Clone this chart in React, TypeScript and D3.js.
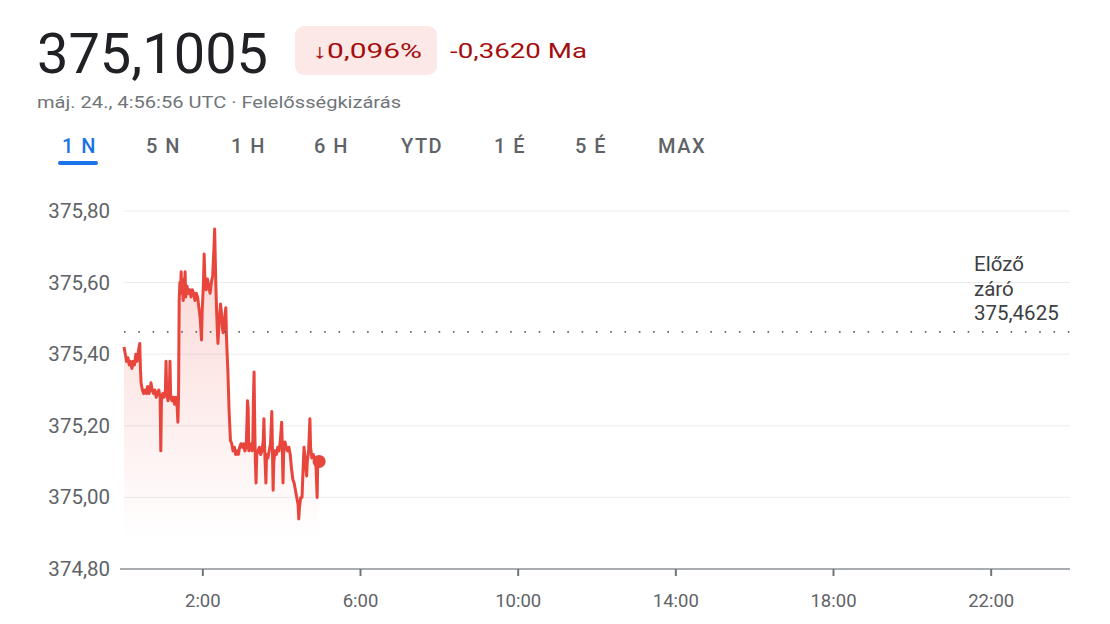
import React from "react";
import * as d3 from "d3";

// minutes since 0:00 (UTC) and the price at that moment
const minutes = [
  0, 2, 4, 6, 8, 10, 12, 14, 16, 18, 20, 22, 24, 25, 26, 28, 30, 32, 34, 36, 38, 40, 41, 43, 45, 47, 49, 51, 53, 55,
  56, 57, 59, 61, 63, 64, 65, 67, 69, 70, 71, 73, 75, 77, 79, 81, 82, 83, 84, 85, 86, 87, 88, 89, 90, 92, 93, 94, 96,
  98, 100, 102, 104, 106, 108, 110, 112, 114, 116, 118, 119, 121, 122, 123, 125, 127, 129, 131, 133, 135, 137, 138,
  139, 140, 141, 142, 143, 145, 147, 148, 150, 151, 153, 155, 156, 157, 158, 159, 160, 161, 162, 164, 166, 168, 170,
  172, 174, 176, 178, 180, 182, 184, 186, 187, 188, 189, 190, 192, 194, 195, 196, 197, 198, 199, 200, 201, 202, 204,
  206, 208, 210, 212, 213, 214, 216, 217, 219, 221, 223, 225, 226, 227, 228, 230, 232, 234, 236, 238, 240, 241, 242,
  243, 245, 247, 249, 251, 253, 255, 257, 259, 261, 263, 265, 266, 267, 269, 271, 272, 274, 276, 278, 279, 281, 283,
  284, 286, 288, 290, 292, 294, 295, 297,
];

const prices = [
  375.42, 375.4, 375.38, 375.39, 375.37, 375.38, 375.36, 375.38, 375.37, 375.4, 375.38, 375.41, 375.43, 375.36, 375.32,
  375.3, 375.29, 375.3, 375.29, 375.31, 375.29, 375.3, 375.32, 375.3, 375.29, 375.3, 375.28, 375.29, 375.3, 375.28,
  375.13, 375.27, 375.29, 375.28, 375.3, 375.38, 375.29, 375.27, 375.3, 375.38, 375.28, 375.27, 375.28, 375.26, 375.28,
  375.25, 375.21, 375.28, 375.55, 375.6, 375.58, 375.63, 375.57, 375.61, 375.55, 375.58, 375.63, 375.56, 375.59,
  375.57, 375.58, 375.56, 375.58, 375.57, 375.55, 375.57, 375.56, 375.53, 375.5, 375.44, 375.52, 375.6, 375.68,
  375.62, 375.58, 375.61, 375.59, 375.57, 375.6, 375.62, 375.7, 375.75, 375.66, 375.58, 375.52, 375.47, 375.43,
  375.5, 375.54, 375.52, 375.47, 375.46, 375.5, 375.53, 375.45, 375.4, 375.36, 375.3, 375.24, 375.2, 375.16, 375.15,
  375.13, 375.14, 375.12, 375.13, 375.12, 375.14, 375.15, 375.14, 375.15, 375.13, 375.14, 375.2, 375.27, 375.25,
  375.13, 375.14, 375.15, 375.13, 375.14, 375.28, 375.35, 375.2, 375.1, 375.04, 375.12, 375.13, 375.14, 375.12,
  375.13, 375.16, 375.22, 375.14, 375.04, 375.12, 375.11, 375.13, 375.15, 375.24, 375.13, 375.02, 375.1, 375.13,
  375.12, 375.14, 375.13, 375.16, 375.21, 375.14, 375.04, 375.12, 375.155, 375.14, 375.13, 375.14, 375.12, 375.08,
  375.05, 375.04, 375.02, 375.0, 374.98, 374.94, 374.97, 375.0, 375.0, 375.05, 375.14, 375.1, 375.06, 375.1, 375.13,
  375.22, 375.14, 375.11, 375.12, 375.11, 375.1, 375.0, 375.11, 375.1005,
];

const yTicks = [374.8, 375.0, 375.2, 375.4, 375.6, 375.8];
const xTickHours = [2, 6, 10, 14, 18, 22];
const tabs = ["1 N", "5 N", "1 H", "6 H", "YTD", "1 É", "5 É", "MAX"];
const tabX = [62, 146, 231, 314, 401, 494, 575, 658];
const previousClose = 375.4625;

const RED = "#e8453c";
const font = "Roboto, 'Noto Sans', Arial, sans-serif";

const hu = d3.formatLocale({ decimal: ",", thousands: " ", grouping: [3], currency: ["", " Ft"], minus: "-" });
const fmt2 = hu.format(".2f");
const fmt4 = hu.format(".4f");

export default function App() {
  const x = d3.scaleLinear().domain([0, 24 * 60]).range([124, 1070]);
  const y = d3.scaleLinear().domain([374.8, 375.8]).range([569, 211]);

  const pts = minutes.map((m, i) => [m, prices[i]] as [number, number]);
  const line = d3
    .line<[number, number]>()
    .x((d) => x(d[0]))
    .y((d) => y(d[1]));
  const area = d3
    .area<[number, number]>()
    .x((d) => x(d[0]))
    .y0(y(374.8))
    .y1((d) => y(d[1]));

  const last = pts[pts.length - 1];
  const change = prices[prices.length - 1] - previousClose;
  const pct = (change / previousClose) * 100;

  return (
    <div style={{ position: "absolute", left: 0, top: 0 }}>
      <svg width={1110} height={624} style={{ display: "block", background: "#fff" }} fontFamily={font}>
        <defs>
          <linearGradient id="fade" gradientUnits="userSpaceOnUse" x1="0" y1="240" x2="0" y2="540">
            <stop offset="0" stopColor={RED} stopOpacity={0.22} />
            <stop offset="1" stopColor={RED} stopOpacity={0} />
          </linearGradient>
        </defs>

        {/* header */}
        <text x={37} y={73} fontSize={56} fill="#202124" textLength={231} lengthAdjust="spacingAndGlyphs">
          {fmt4(prices[prices.length - 1])}
        </text>
        <rect x={295} y={26} width={142} height={49} rx={9} fill="#fce8e6" />
        <text x={312} y={58} fontSize={20} fill="#a50e0e" textLength={110} lengthAdjust="spacingAndGlyphs">
          {"↓" + hu.format(".3f")(Math.abs(pct)) + "%"}
        </text>
        <text x={450} y={58} fontSize={20} fill="#a50e0e" textLength={137} lengthAdjust="spacingAndGlyphs">
          {fmt4(change) + " Ma"}
        </text>
        <text x={37} y={108} fontSize={16} fill="#70757a" textLength={364} lengthAdjust="spacingAndGlyphs">
          máj. 24., 4:56:56 UTC · Felelősségkizárás
        </text>

        {/* range tabs */}
        {tabs.map((t, i) => (
          <text
            key={t}
            x={tabX[i]}
            y={153}
            fontSize={20}
            fontWeight={500}
            letterSpacing={1.5}
            fill={i === 0 ? "#1a73e8" : "#5f6368"}
          >
            {t}
          </text>
        ))}
        <rect x={58} y={161} width={40} height={4} rx={2} fill="#1a73e8" />

        {/* grid */}
        {yTicks.slice(1).map((t) => (
          <line key={t} x1={124} x2={1070} y1={y(t)} y2={y(t)} stroke="#ececec" strokeWidth={1} />
        ))}
        {yTicks.map((t) => (
          <text key={"l" + t} x={110} y={y(t) + 7} fontSize={20.5} fill="#5f6368" textAnchor="end">
            {fmt2(t)}
          </text>
        ))}

        {/* area + line */}
        <path d={area(pts) || ""} fill="url(#fade)" />
        <path d={line(pts) || ""} fill="none" stroke={RED} strokeWidth={3} strokeLinejoin="round" />
        <circle cx={x(last[0])} cy={y(last[1])} r={6.5} fill={RED} />

        {/* previous close */}
        <line
          x1={124}
          x2={1070}
          y1={y(previousClose)}
          y2={y(previousClose)}
          stroke="#5f6368"
          strokeWidth={1.6}
          strokeDasharray="1.6 12.7"
        />
        <text x={974} y={271} fontSize={20.5} fill="#3c4043">
          Előző
        </text>
        <text x={974} y={296} fontSize={20.5} fill="#3c4043">
          záró
        </text>
        <text x={974} y={320} fontSize={20.5} fill="#3c4043">
          {fmt4(previousClose)}
        </text>

        {/* x axis */}
        <line x1={120} x2={1070} y1={569} y2={569} stroke="#a9adb1" strokeWidth={2} />
        {xTickHours.map((h) => (
          <g key={h} transform={`translate(${x(h * 60)},0)`}>
            <line y1={569} y2={576} stroke="#70757a" strokeWidth={2} />
            <text y={607} fontSize={18.5} fill="#5f6368" textAnchor="middle">
              {h + ":00"}
            </text>
          </g>
        ))}
      </svg>
    </div>
  );
}
